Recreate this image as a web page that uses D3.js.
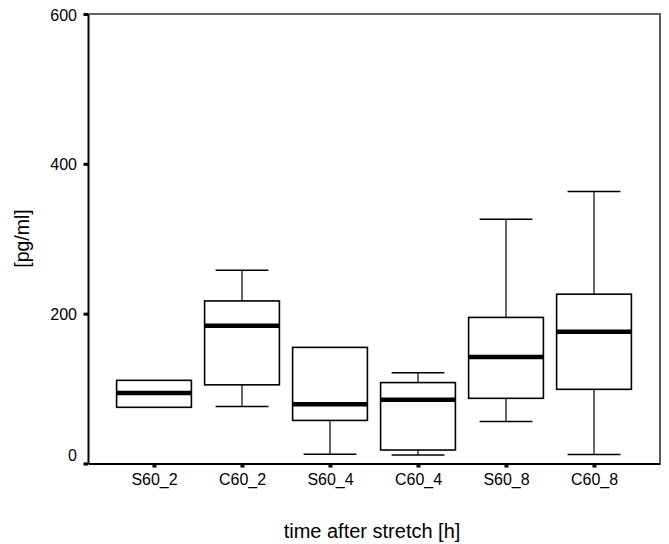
<!DOCTYPE html>
<html>
<head>
<meta charset="utf-8">
<script src="https://cdn.jsdelivr.net/npm/d3@7"></script>
<style>
  html, body { margin: 0; padding: 0; background: #fff; }
  text { font-family: "Liberation Sans", Arial, Helvetica, sans-serif; fill: #000; }
</style>
</head>
<body>
<svg id="chart" width="669" height="544"></svg>
<script>
// ---- data ----
const categories = ["S60_2", "C60_2", "S60_4", "C60_4", "S60_8", "C60_8"];
const whiskerLow  = [75, 76, 12.5, 11.5, 56, 12];
const q1Values    = [75, 105, 57.5, 18, 87, 99];
const medians     = [94, 184, 79, 85, 142, 176];
const q3Values    = [111, 217, 155, 108, 195, 226];
const whiskerHigh = [111, 258, 155, 121, 326, 363];
const yTicks = [0, 200, 400, 600];
const yTitle = "[pg/ml]";
const xTitle = "time after stretch [h]";

// ---- layout ----
const svg = d3.select("#chart");
const L = 88, R = 660, T = 14, B = 463.5;

const x = d3.scalePoint().domain(categories).range([L, R]).padding(0.75);
const y = d3.scaleLinear().domain([0, 600]).range([B, T]);
const step = x.step();
const boxW = step * 0.85;
const capW = step * 0.6;

// frame (top and right borders)
svg.append("path")
  .attr("d", `M${L},${T}H${R}V${B}`)
  .attr("fill", "none").attr("stroke", "#333").attr("stroke-width", 1.6);

// boxes
const data = categories.map((c, i) => ({
  c, lo: whiskerLow[i], q1: q1Values[i], med: medians[i], q3: q3Values[i], hi: whiskerHigh[i]
}));

const g = svg.append("g");
data.forEach(d => {
  const cx = x(d.c);
  // whiskers
  if (d.hi > d.q3) {
    g.append("line").attr("x1", cx).attr("x2", cx).attr("y1", y(d.hi)).attr("y2", y(d.q3))
      .attr("stroke", "#000").attr("stroke-width", 1.2);
    g.append("line").attr("x1", cx - capW / 2).attr("x2", cx + capW / 2).attr("y1", y(d.hi)).attr("y2", y(d.hi))
      .attr("stroke", "#000").attr("stroke-width", 1.5);
  }
  if (d.lo < d.q1) {
    g.append("line").attr("x1", cx).attr("x2", cx).attr("y1", y(d.q1)).attr("y2", y(d.lo))
      .attr("stroke", "#000").attr("stroke-width", 1.2);
    g.append("line").attr("x1", cx - capW / 2).attr("x2", cx + capW / 2).attr("y1", y(d.lo)).attr("y2", y(d.lo))
      .attr("stroke", "#000").attr("stroke-width", 1.5);
  }
  // box
  g.append("rect")
    .attr("x", cx - boxW / 2).attr("y", y(d.q3))
    .attr("width", boxW).attr("height", y(d.q1) - y(d.q3))
    .attr("fill", "#fff").attr("stroke", "#000").attr("stroke-width", 1.6);
  // median
  g.append("line").attr("x1", cx - boxW / 2).attr("x2", cx + boxW / 2)
    .attr("y1", y(d.med)).attr("y2", y(d.med))
    .attr("stroke", "#000").attr("stroke-width", 4.5);
});

// y axis
const yAxis = d3.axisLeft(y).tickValues(yTicks).tickSize(0).tickPadding(11).tickFormat(d3.format("d"));
const ya = svg.append("g").attr("transform", `translate(${L},0)`).call(yAxis);
ya.select(".domain").attr("stroke", "#000").attr("stroke-width", 2);
ya.selectAll(".tick text")
  .attr("font-size", 16)
  .attr("font-family", "Liberation Sans, Arial, sans-serif")
  .attr("dy", d => d === 0 ? "-0.2em" : "0.38em")
  .attr("fill", "#000");
ya.selectAll(".tick").append("rect")
  .attr("x", -4.5).attr("y", -1.5).attr("width", 4.5).attr("height", 3).attr("fill", "#000");

// x axis
const xAxis = d3.axisBottom(x).tickSize(0).tickPadding(10.5);
const xa = svg.append("g").attr("transform", `translate(0,${B})`).call(xAxis);
xa.select(".domain").attr("stroke", "#000").attr("stroke-width", 2);
xa.selectAll(".tick text")
  .attr("font-size", 16)
  .attr("font-family", "Liberation Sans, Arial, sans-serif")
  .attr("fill", "#000");
xa.selectAll(".tick").append("rect")
  .attr("x", -2).attr("y", 0).attr("width", 4).attr("height", 4).attr("fill", "#000");

// titles
svg.append("text")
  .attr("x", (L + R) / 2 - 2).attr("y", 537.5)
  .attr("text-anchor", "middle").attr("font-size", 20)
  .text(xTitle);

svg.append("text")
  .attr("transform", `translate(29,${238.5}) rotate(-90)`)
  .attr("text-anchor", "middle").attr("font-size", 19.5)
  .text(yTitle);
</script>
</body>
</html>
